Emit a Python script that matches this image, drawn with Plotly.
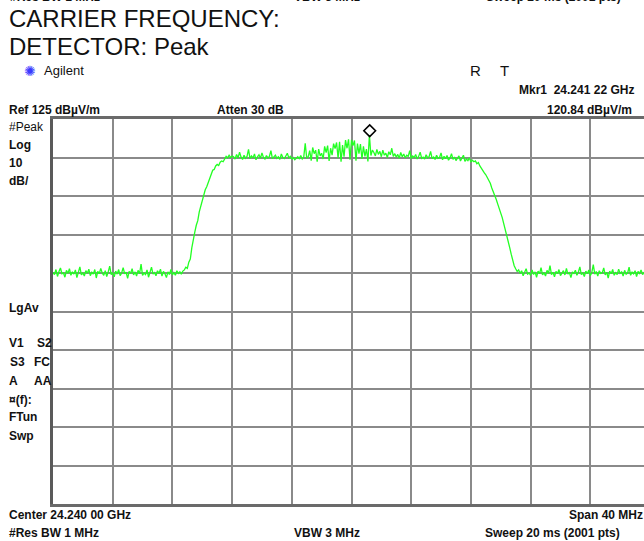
import numpy as np
import plotly.graph_objects as go

# analyzer settings
center_ghz = 24.240
span_ghz = 0.040
ref_level = 125
db_per_div = 10
n_points = 401

# trace levels (dBuV/m) left to right
floor_left = [
    85.2, 84.6, 85.9, 84.1, 85.4, 86.3, 84.8, 85.0, 83.9, 85.7,
    84.9, 86.1, 84.4, 85.3, 84.7, 85.8, 83.8, 85.1, 86.6, 84.5,
    85.0, 84.2, 85.6, 84.9, 86.0, 84.3, 85.2, 84.7, 85.9, 83.7,
    85.4, 84.8, 86.2, 85.0, 84.4, 85.6, 84.1, 85.3, 86.8, 84.6,
    85.1, 84.0, 85.5, 84.7, 85.9, 84.3, 85.0, 86.4, 84.8, 85.2,
    83.6, 85.4, 84.9, 86.1, 84.5, 85.3, 84.2, 85.7, 84.8, 87.3,
    84.4, 85.0, 84.6, 85.8, 83.9, 85.2, 86.5, 84.7, 85.1, 84.3,
    85.6, 84.9, 86.0, 84.2, 85.4, 84.8, 83.8, 85.3, 84.6, 85.9,
    84.5, 85.1, 84.4, 85.6, 84.9, 85.3, 84.7, 85.5,
]
rise = [
    85.8, 86.5, 86.2, 87.8, 88.6, 91.5, 94.2, 95.6, 97.4, 98.6,
    100.9, 102.3, 104.1, 104.9, 106.6, 107.4, 108.5, 109.8, 110.6, 111.7,
    111.9, 112.8, 113.2, 112.9, 113.8, 114.1, 113.9, 114.7, 115.3, 114.9,
    115.6, 115.0, 115.4,
]
plateau_left = [
    115.2, 114.6, 115.8, 114.9, 116.4, 115.1, 114.5, 115.6, 114.8, 115.3,
    117.1, 114.7, 115.4, 114.9, 115.9, 114.4, 115.2, 115.7, 114.8, 116.2,
    115.0, 114.6, 115.5, 114.9, 115.3, 116.8, 114.7, 115.1, 115.6, 114.8,
    115.2, 114.5, 115.9, 115.0, 114.7, 115.4, 116.1, 114.9, 115.3, 114.6,
    115.0, 114.4, 114.9, 115.2, 114.7, 115.5, 114.6, 115.1, 118.7, 114.8,
    115.2,
]
hump = [
    116.8, 114.2, 117.6, 116.0, 116.9, 113.9, 117.2, 115.4, 116.1, 114.6,
    117.9, 116.3, 118.1, 114.1, 117.4, 115.6, 118.6, 117.3, 118.9, 114.8,
    119.1, 113.9, 118.2, 115.2, 119.5, 117.4, 119.7, 114.4, 119.6, 118.1,
    119.4, 114.2, 118.6, 116.0, 118.5, 114.6, 117.9, 115.3, 117.2, 114.0,
    120.84, 115.5, 116.9,
]
plateau_right = [
    116.3, 115.4, 117.1, 115.8, 116.6, 115.2, 116.9, 115.6, 116.1, 115.0,
    116.5, 115.7, 117.4, 115.3, 116.0, 115.1, 115.8, 114.8, 116.3, 115.2,
    115.9, 114.9, 115.6, 115.3, 116.8, 114.7, 115.4, 115.0, 115.8, 114.6,
    115.3, 116.4, 114.8, 115.1, 114.6, 115.7, 114.9, 115.2, 116.6, 114.7,
    115.1, 114.5, 115.6, 114.8, 115.0, 116.2, 114.4, 115.3, 114.7, 115.5,
    114.3, 114.9, 116.0, 114.5, 115.1, 114.2, 114.8, 115.4, 114.1, 114.7,
    115.6, 114.0, 114.6, 114.2, 114.9, 113.8, 114.3, 113.9, 114.1, 113.4,
    113.7, 112.8,
]
fall = [
    112.1, 111.6, 111.0, 110.5, 109.8, 108.9, 108.3, 107.1, 106.2, 105.0,
    104.1, 102.9, 101.8, 100.6, 99.4, 97.8, 96.4, 94.9, 93.5, 91.6,
    89.9, 88.0, 86.9, 86.1, 85.4, 85.8,
]
floor_right = [
    84.9, 85.6, 84.3, 85.2, 86.1, 84.7, 85.0, 84.4, 85.8, 84.6,
    85.3, 83.9, 85.5, 84.8, 86.4, 84.5, 85.1, 84.2, 85.7, 84.9,
    86.9, 84.6, 85.2, 84.0, 85.4, 84.8, 85.9, 84.3, 85.0, 85.6,
    84.5, 86.2, 84.7, 85.1, 83.8, 85.3, 84.9, 85.7, 84.4, 85.2,
    86.6, 84.6, 85.0, 84.1, 85.5, 84.8, 85.8, 84.3, 85.1, 87.2,
    84.7, 85.4, 84.2, 85.6, 84.9, 85.0, 86.3, 84.5, 85.2, 83.7,
    85.5, 84.8, 85.9, 84.4, 85.1, 84.6, 86.0, 84.9, 85.3, 84.2,
    85.7, 84.7, 85.0, 86.5, 84.4, 85.2, 84.8, 85.6, 84.1, 85.4,
    84.9, 85.8, 84.6, 85.1, 84.3, 85.5, 84.8, 85.2,
]

# marker 1
mkr_freq = 24.24122
mkr_level = 120.84

level = floor_left + rise + plateau_left + hump + plateau_right + fall + floor_right
start = center_ghz - span_ghz / 2
stop = center_ghz + span_ghz / 2
freq = np.linspace(start, stop, n_points)

# screen geometry (pixels)
W, H = 644, 541
L, T, B = 53, 119, 504
div_px = 59.7
x_end = start + span_ghz / 10 * (W - L) / div_px


def px(x):
    return (x - L) / (W - L)


def py(y):
    return (B - y) / (B - T)


fig = go.Figure()

fig.add_trace(go.Scatter(
    x=freq, y=level, mode='lines',
    line=dict(color='#22ff22', width=1.3),
    hoverinfo='skip', showlegend=False
))

# marker diamond, drawn just above the marked point
fig.add_trace(go.Scatter(
    x=[mkr_freq], y=[mkr_level + 1.1], mode='markers',
    marker=dict(symbol='diamond-open', size=9, color='black', line=dict(width=1.6)),
    hoverinfo='skip', showlegend=False
))

font = 'Liberation Sans, Arial, sans-serif'

# (text, x px, y px, anchor, size, bold)
labels = [
    ('#Res BW 1 MHz', 8, -3, 'left', 12, True),
    ('VBW 3 MHz', 292, -3, 'left', 12, True),
    ('Sweep 20 ms (2001 pts)', 484, -3, 'left', 12, True),
    ('CARRIER FREQUENCY:', 7, 19, 'left', 24, False),
    ('DETECTOR: Peak', 7, 46, 'left', 24, False),
    ('Agilent', 42, 71, 'left', 13, False),
    ('R', 468, 71, 'left', 15, False),
    ('T', 498, 71, 'left', 15, False),
    ('Mkr1  24.241 22 GHz', 636, 90, 'right', 12, True),
    ('Ref 125 dBµV/m', 7, 110, 'left', 12, True),
    ('Atten 30 dB', 215, 110, 'left', 12, True),
    ('120.84 dBµV/m', 634, 110, 'right', 12, True),
    ('#Peak', 7, 127, 'left', 12, False),
    ('Log', 7, 145, 'left', 12, True),
    ('10', 7, 163, 'left', 12, True),
    ('dB/', 7, 181, 'left', 12, True),
    ('LgAv', 7, 308, 'left', 12, True),
    ('V1', 7, 343, 'left', 12, True),
    ('S2', 35, 343, 'left', 12, True),
    ('S3', 8, 362, 'left', 12, True),
    ('FC', 32, 362, 'left', 12, True),
    ('A', 7, 381, 'left', 12, True),
    ('AA', 32, 381, 'left', 12, True),
    ('¤(f):', 7, 400, 'left', 12, True),
    ('FTun', 7, 417, 'left', 12, True),
    ('Swp', 7, 436, 'left', 12, True),
    ('Center 24.240 00 GHz', 7, 515, 'left', 12, True),
    ('Span 40 MHz', 645, 515, 'right', 12, True),
    ('#Res BW 1 MHz', 7, 533, 'left', 12, True),
    ('VBW 3 MHz', 292, 533, 'left', 12, True),
    ('Sweep 20 ms (2001 pts)', 483, 533, 'left', 12, True),
]

for text, x, y, anchor, size, bold in labels:
    fig.add_annotation(
        text=f'<b>{text}</b>' if bold else text,
        x=px(x), y=py(y), xref='paper', yref='paper',
        xanchor=anchor, yanchor='middle', showarrow=False,
        font=dict(family=font, size=size, color='#111111'),
    )

# Agilent logo
fig.add_annotation(
    text='✺', x=px(22), y=py(71), xref='paper', yref='paper',
    yanchor='middle', showarrow=False,
    font=dict(family='DejaVu Sans', size=14, color='#3a3aff'),
)

fig.update_xaxes(
    range=[start, x_end], tick0=start, dtick=span_ghz / 10,
    showticklabels=False, ticks='', zeroline=False,
    showgrid=True, gridcolor='#8a8a8a', gridwidth=2,
    showline=True, linecolor='#6a6a6a', linewidth=2.5, mirror=True,
)
fig.update_yaxes(
    range=[ref_level - 10 * db_per_div, ref_level],
    tick0=ref_level, dtick=db_per_div,
    showticklabels=False, ticks='', zeroline=False,
    showgrid=True, gridcolor='#8a8a8a', gridwidth=2,
    showline=True, linecolor='#5a5a5a', linewidth=3,
)

fig.update_layout(
    width=W, height=H,
    margin=dict(l=L, r=0, t=T, b=H - B),
    paper_bgcolor='white', plot_bgcolor='white',
)

# the screenshot starts at the page corner, so drop the default body margin
fig.write_html(
    "out.html",
    config={'displayModeBar': False},
    post_script="document.body.style.margin = '0';",
)
